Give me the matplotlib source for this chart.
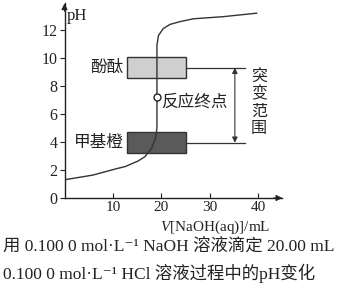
import matplotlib
matplotlib.use("Agg")
import matplotlib.pyplot as plt
from matplotlib.patches import Rectangle

# ---- data ----
vol = [0, 5.9, 10.8, 12.5, 15.2, 16.6, 18.0, 18.8, 19.1, 19.1, 19.4, 20.4, 21.8, 23.9, 26.6, 32.7, 39.7]
ph = [1.3, 1.64, 2.1, 2.24, 2.64, 2.95, 3.55, 4.26, 5.0, 10.9, 11.6, 12.1, 12.4, 12.6, 12.8, 12.95, 13.2]
endpoint = (19.1, 7.2)
phenol_range = (8.55, 10.05)
methyl_range = (3.2, 4.7)
jump_range = (3.95, 9.3)
xticks = [10, 20, 30, 40]
yticks = [0, 2, 4, 6, 8, 10, 12]

SERIF = ["Liberation Serif", "Noto Sans CJK SC", "DejaVu Sans"]
CJK = ["Noto Sans CJK SC", "DejaVu Sans"]
plt.rcParams["mathtext.fontset"] = "custom"
plt.rcParams["mathtext.rm"] = "Liberation Serif"
plt.rcParams["mathtext.it"] = "Liberation Serif:italic"

fig = plt.figure(figsize=(3.43, 2.85), dpi=100)
ax = fig.add_axes([64.5 / 343, 87 / 285, 217.8 / 343, 194.6 / 285])
ax.set_xlim(0, 45)
ax.set_ylim(0, 13.9)
for s in ["top", "right"]:
    ax.spines[s].set_visible(False)
for s in ["left", "bottom"]:
    ax.spines[s].set_linewidth(1.0)
    ax.spines[s].set_color("#222222")
ax.patch.set_alpha(0)

ax.set_xticks(xticks)
ax.set_yticks(yticks)
ax.tick_params(axis="x", direction="in", length=3.5, width=0.8, pad=2, labelsize=11, colors="#222222")
ax.tick_params(axis="y", direction="out", length=3.5, width=0.8, pad=1.5, labelsize=11.5, colors="#222222")
for lab in ax.get_xticklabels() + ax.get_yticklabels():
    lab.set_family(SERIF)

# axis arrows
ax.annotate("", xy=(1.0, 0), xytext=(0.96, 0), xycoords="axes fraction",
            arrowprops=dict(arrowstyle="-|>", lw=0.8, color="#222222", mutation_scale=9, shrinkA=0, shrinkB=0))
ax.annotate("", xy=(0, 1.0), xytext=(0, 0.96), xycoords="axes fraction",
            arrowprops=dict(arrowstyle="-|>", lw=0.8, color="#222222", mutation_scale=9, shrinkA=0, shrinkB=0))

ax.text(0.5, 13.0, "pH", family=SERIF, fontsize=12, ha="left", va="center", color="#222222")

# indicator boxes
bx0, bx1 = 13.0, 25.2
ax.add_patch(Rectangle((bx0, phenol_range[0]), bx1 - bx0, phenol_range[1] - phenol_range[0],
                       facecolor="#cfcfcf", edgecolor="#333333", lw=1.0, zorder=2))
ax.add_patch(Rectangle((bx0, methyl_range[0]), bx1 - bx0, methyl_range[1] - methyl_range[0],
                       facecolor="#5a5a5a", edgecolor="#333333", lw=1.0, zorder=2))
ax.text(bx0 - 0.8, sum(phenol_range) / 2, "酚酞", family=CJK, fontsize=12, ha="right", va="center", color="#222222")
ax.text(bx0 - 0.8, sum(methyl_range) / 2, "甲基橙", family=CJK, fontsize=12, ha="right", va="center", color="#222222")

# range lines and double arrow
ax.plot([bx1, 37.3], [jump_range[1]] * 2, color="#333333", lw=0.9, zorder=2)
ax.plot([bx1, 37.3], [jump_range[0]] * 2, color="#333333", lw=0.9, zorder=2)
ax.annotate("", xy=(35.2, jump_range[0]), xytext=(35.2, jump_range[1]),
            arrowprops=dict(arrowstyle="<|-|>", lw=0.8, color="#333333", mutation_scale=8, shrinkA=0, shrinkB=0))
ax.text(40.2, 6.8, "突\n变\n范\n围", family=CJK, fontsize=11.5, ha="center", va="center",
        linespacing=1.0, color="#222222")

# titration curve
ax.plot(vol, ph, color="#333333", lw=1.0, zorder=3, solid_joinstyle="round")
ax.plot([endpoint[0]], [endpoint[1]], marker="o", ms=5, mfc="white", mec="#222222", mew=1.0, zorder=4)
ax.text(19.9, 6.85, "反应终点", family=CJK, fontsize=12, ha="left", va="center", color="#222222")

# x label
fig.text(215 / 343, 1 - 227 / 285, r"$V$[NaOH(aq)]/mL", family=SERIF, fontsize=11,
         ha="center", va="center", color="#222222")

# caption
fig.text(3 / 343, 1 - 246 / 285, "用 0.100 0 mol·L⁻¹ NaOH 溶液滴定 20.00 mL", family=SERIF,
         fontsize=12.5, ha="left", va="center", color="#222222")
fig.text(3 / 343, 1 - 273 / 285, "0.100 0 mol·L⁻¹ HCl 溶液过程中的pH变化", family=SERIF,
         fontsize=12.5, ha="left", va="center", color="#222222")

fig.savefig("out.png", dpi=100)
